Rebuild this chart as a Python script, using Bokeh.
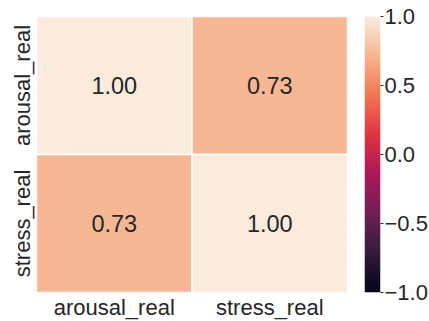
import numpy as np
from bokeh.plotting import figure
from bokeh.layouts import row
from bokeh.models import ColumnDataSource, LinearColorMapper, FixedTicker, CustomJSTickFormatter
from bokeh.transform import linear_cmap
from bokeh.core.properties import value
from bokeh.embed import file_html
from bokeh.resources import INLINE

# correlation matrix of the two variables
variables = ["arousal_real", "stress_real"]
corr_arousal = [1.00, 0.73]
corr_stress = [0.73, 1.00]
cbar_ticks = [-1.0, -0.5, 0.0, 0.5, 1.0]

# "rocket" colour map, defined by a few stops and interpolated
rocket_stops = [0.0, 1 / 7, 2 / 7, 3 / 7, 4 / 7, 5 / 7, 6 / 7, 1.0]
rocket_hex = ["#03051a", "#35193e", "#701f57", "#ad1759",
              "#e13342", "#f37651", "#f6b48f", "#faebdd"]


def build_palette(n=256):
    rgb = np.array([[int(h[i:i + 2], 16) for i in (1, 3, 5)] for h in rocket_hex], float)
    t = np.linspace(0, 1, n)
    cols = np.stack([np.interp(t, rocket_stops, rgb[:, k]) for k in range(3)], axis=1)
    return ["#%02x%02x%02x" % tuple(int(round(c)) for c in rgb_) for rgb_ in cols]


palette = build_palette()
FONT = "Liberation Sans"
INK = "#262626"
TICK_SIZE = "22px"

matrix = [corr_arousal, corr_stress]
xs, ys, vals = [], [], []
for i, rname in enumerate(variables):
    for j, cname in enumerate(variables):
        xs.append(cname)
        ys.append(rname)
        vals.append(matrix[i][j])
src = ColumnDataSource(dict(x=xs, y=ys, v=vals, label=["%.2f" % v for v in vals]))

p = figure(frame_width=311, frame_height=276, x_range=variables, y_range=list(reversed(variables)),
           output_backend="svg", toolbar_location=None,
           min_border_left=36, min_border_right=17, min_border_top=16, min_border_bottom=10)
p.rect(x="x", y="y", width=1, height=1, source=src,
       fill_color=linear_cmap("v", palette, -1, 1), line_color="white", line_width=1.5)
p.text(x="x", y="y", text="label", source=src, text_align="center", text_baseline="middle",
       text_font=value(FONT), text_font_size="23.5px", text_color=INK)

p.grid.visible = False
p.outline_line_color = None
for ax in (p.xaxis, p.yaxis):
    ax.axis_line_color = None
    ax.major_tick_line_color = None
    ax.minor_tick_line_color = None
    ax.major_tick_in = 0
    ax.major_tick_out = 0
    ax.major_label_text_font = FONT
    ax.major_label_text_font_size = TICK_SIZE
    ax.major_label_text_color = INK
p.xaxis.major_label_standoff = 2
p.yaxis.major_label_standoff = 2
p.yaxis.major_label_orientation = "vertical"

# colour bar
mapper = LinearColorMapper(palette=palette, low=-1, high=1)
cb = figure(frame_width=16, frame_height=276, x_range=(0, 1), y_range=(-1, 1),
            output_backend="svg", toolbar_location=None, y_axis_location="right",
            min_border_left=0, min_border_right=0, min_border_top=16, min_border_bottom=25)
cb.image(image=[np.linspace(-1, 1, 256).reshape(-1, 1)], x=0, y=-1, dw=1, dh=2,
         color_mapper=mapper)
cb.xaxis.visible = False
cb.grid.visible = False
cb.outline_line_color = None
cb.yaxis.ticker = FixedTicker(ticks=cbar_ticks)
cb.yaxis.formatter = CustomJSTickFormatter(
    code="return (tick < 0 ? '\u2212' : '') + Math.abs(tick).toFixed(1);")
cb.yaxis.axis_line_color = None
cb.yaxis.minor_tick_line_color = None
cb.yaxis.major_tick_line_color = INK
cb.yaxis.major_tick_in = 0
cb.yaxis.major_tick_out = 3
cb.yaxis.major_label_standoff = 1
cb.yaxis.major_label_text_font = FONT
cb.yaxis.major_label_text_font_size = TICK_SIZE
cb.yaxis.major_label_text_color = INK

layout = row(p, cb)
open("out.html", "w").write(file_html(layout, INLINE))
